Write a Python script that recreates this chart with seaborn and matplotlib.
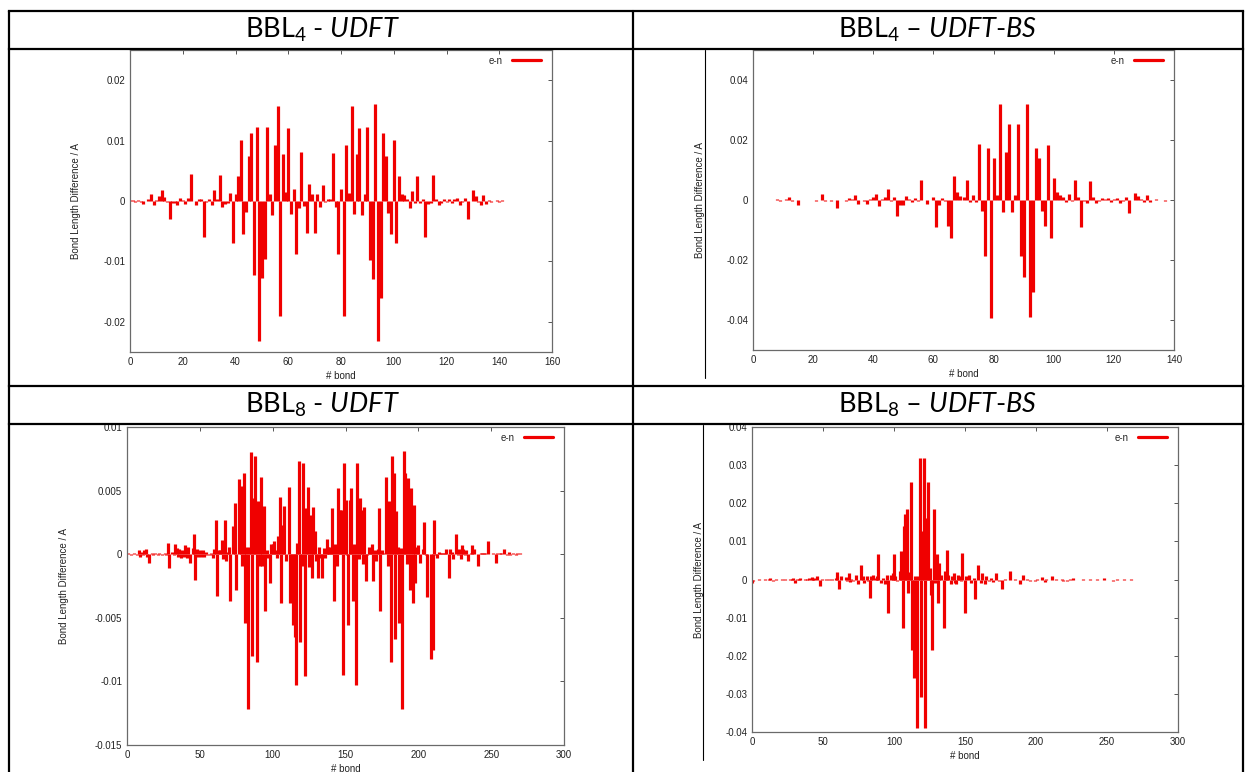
import matplotlib
matplotlib.use("Agg")
import matplotlib.pyplot as plt
from matplotlib.lines import Line2D
import seaborn as sns
import numpy as np

# bond length differences (e-n), one value per bond, rows of 10
bbl4_udft = [
    0.0002, 0.0001, -0.0002, 0.0001, -0.0001, -0.0005, 0.0, 0.0003, 0.0011, -0.0006,
    0.0001, 0.0008, 0.0019, 0.0006, -0.0002, -0.0030, -0.0003, -0.0003, -0.0007, 0.0005,
    0.0002, -0.0005, 0.0005, 0.0044, 0.0, -0.0007, 0.0003, 0.0003, -0.0060, -0.0002,
    0.0003, -0.0006, 0.0018, 0.0003, 0.0043, -0.0010, -0.0005, -0.0003, 0.0013, -0.0070,
    0.0011, 0.0042, 0.0101, -0.0055, -0.0019, 0.0075, 0.0112, -0.0122, 0.0123, -0.0231,
    -0.0128, -0.0096, 0.0123, 0.0011, -0.0024, 0.0092, 0.0157, -0.0190, 0.0077, 0.0015,
    0.0121, -0.0021, 0.0020, -0.0087, -0.0011, 0.0081, -0.0009, -0.0053, 0.0028, 0.0012,
    -0.0053, 0.0012, -0.0010, 0.0027, -0.0001, 0.0003, 0.0003, 0.0080, -0.0010, -0.0087,
    0.0020, -0.0190, 0.0093, 0.0014, 0.0158, -0.0022, 0.0077, 0.0121, -0.0023, 0.0011,
    0.0122, -0.0097, -0.0129, 0.0160, -0.0231, -0.0160, 0.0112, 0.0074, -0.0020, -0.0054,
    0.0101, -0.0069, 0.0041, 0.0012, 0.0010, 0.0004, -0.0011, 0.0017, -0.0004, 0.0042,
    -0.0003, 0.0003, -0.0059, -0.0005, -0.0003, 0.0043, 0.0004, -0.0007, -0.0003, 0.0003,
    -0.0001, 0.0003, -0.0004, 0.0004, 0.0005, -0.0007, -0.0002, 0.0005, -0.0030, 0.0,
    0.0018, 0.0009, -0.0001, -0.0007, 0.0010, -0.0005, 0.0002, -0.0001, 0.0, 0.0002,
    -0.0002, 0.0001,
]

bbl4_udft_bs = [
    0.0001, 0.0, 0.0001, 0.0, 0.0001, 0.0, -0.0001, 0.0, 0.0004, -0.0004,
    0.0, 0.0005, 0.0009, -0.0004, 0.0, -0.0015, 0.0, 0.0001, 0.0, 0.0001,
    0.0, -0.0002, 0.0, 0.0020, -0.0002, 0.0, -0.0003, 0.0, -0.0027, 0.0,
    0.0, -0.0004, 0.0007, 0.0004, 0.0017, -0.0012, 0.0, -0.0002, -0.0012, 0.0002,
    0.0009, 0.0019, -0.0019, 0.0004, 0.0011, 0.0037, -0.0004, 0.0011, -0.0052, -0.0016,
    -0.0018, 0.0012, 0.0002, -0.0008, 0.0007, -0.0004, 0.0068, 0.0, -0.0012, 0.0,
    0.0011, -0.0090, -0.0016, 0.0007, -0.0002, -0.0088, -0.0127, 0.0079, 0.0026, 0.0012,
    0.0009, 0.0066, -0.0006, 0.0017, -0.0006, 0.0187, -0.0037, -0.0188, 0.0174, -0.0392,
    0.0140, 0.0017, 0.0320, -0.0041, 0.0161, 0.0254, -0.0041, 0.0017, 0.0254, -0.0185,
    -0.0258, 0.0320, -0.0390, -0.0306, 0.0174, 0.0140, -0.0038, -0.0088, 0.0184, -0.0127,
    0.0075, 0.0026, 0.0018, 0.0009, -0.0008, 0.0020, -0.0004, 0.0066, 0.0009, -0.0090,
    -0.0004, -0.0011, 0.0064, 0.0011, -0.0011, -0.0002, 0.0007, 0.0002, 0.0007, -0.0007,
    0.0002, 0.0007, -0.0011, -0.0004, 0.0009, -0.0043, 0.0, 0.0023, 0.0014, 0.0002,
    -0.0008, 0.0016, -0.0008, 0.0, 0.0002, 0.0, 0.0001, -0.0002, -0.0001, 0.0001,
]

bbl8_udft = [
    0.0, 0.0001, 0.0, -0.0001, 0.0, 0.0001, 0.0, -0.0001, 0.0003, -0.0002,
    0.0002, -0.0001, 0.0003, 0.0004, -0.0002, -0.0007, 0.0, 0.0001, -0.0001, 0.0001,
    0.0, -0.0001, 0.0001, 0.0, -0.0001, 0.0, 0.0001, -0.0001, 0.0009, -0.0011,
    0.0, 0.0002, -0.0001, 0.0008, 0.0005, -0.0002, 0.0004, -0.0003, 0.0003, -0.0002,
    0.0007, -0.0003, 0.0006, -0.0007, 0.0, 0.0005, 0.0016, -0.0020, 0.0004, -0.0002,
    0.0003, -0.0002, 0.0003, -0.0002, 0.0002, -0.0001, 0.0, -0.0001, 0.0001, -0.0003,
    0.0004, 0.0027, -0.0033, 0.0003, 0.0003, 0.0011, -0.0004, 0.0027, -0.0005, 0.0002,
    0.0006, -0.0037, 0.0, 0.0022, 0.0040, -0.0028, 0.0, 0.0059, 0.0054, -0.0009,
    0.0064, -0.0054, 0.0006, -0.0122, 0.0006, 0.0080, -0.0080, 0.0044, 0.0077, -0.0085,
    0.0042, -0.0009, 0.0061, -0.0009, 0.0038, -0.0045, 0.0003, -0.0003, -0.0023, 0.0008,
    0.0008, 0.0010, 0.0003, -0.0003, 0.0014, 0.0045, -0.0038, 0.0023, 0.0038, -0.0005,
    0.0, 0.0053, -0.0038, -0.0009, -0.0056, -0.0065, -0.0103, 0.0009, 0.0073, -0.0069,
    -0.0009, 0.0072, -0.0096, 0.0036, 0.0053, -0.0010, 0.0031, -0.0019, 0.0037, 0.0018,
    -0.0005, -0.0019, 0.0006, -0.0003, -0.0019, 0.0005, -0.0003, 0.0012, 0.0006, 0.0006,
    0.0002, 0.0036, -0.0037, 0.0008, -0.0009, 0.0052, 0.0035, 0.0035, -0.0095, 0.0072,
    0.0043, -0.0001, -0.0056, 0.0043, 0.0052, -0.0037, 0.0008, -0.0103, 0.0072, -0.0004,
    0.0044, 0.0035, -0.0008, 0.0037, -0.0021, -0.0001, 0.0006, 0.0005, 0.0008, -0.0021,
    0.0003, -0.0005, 0.0004, 0.0036, -0.0045, 0.0003, 0.0001, 0.0, 0.0061, -0.0009,
    0.0042, -0.0085, 0.0077, 0.0064, -0.0067, 0.0034, 0.0006, -0.0054, 0.0005, -0.0122,
    0.0081, 0.0064, -0.0008, 0.0060, -0.0028, 0.0052, -0.0038, 0.0039, -0.0023, 0.0006,
    0.0007, -0.0007, 0.0, 0.0004, 0.0025, -0.0001, -0.0034, 0.0, 0.0, -0.0082,
    -0.0075, 0.0027, -0.0001, -0.0003, 0.0002, 0.0001, 0.0001, 0.0001, 0.0001, 0.0004,
    0.0, -0.0019, 0.0004, 0.0002, -0.0004, 0.0, 0.0016, -0.0001, 0.0004, -0.0004,
    0.0007, 0.0004, -0.0001, 0.0003, -0.0005, 0.0, 0.0001, 0.0007, 0.0004, 0.0,
    0.0, -0.0009, 0.0, 0.0001, 0.0001, 0.0001, 0.0001, 0.0, 0.0010, 0.0,
    0.0, 0.0001, 0.0, -0.0007, 0.0001, 0.0, 0.0001, 0.0001, 0.0, 0.0004,
    0.0, -0.0001, 0.0002, -0.0001, 0.0, 0.0001, 0.0, -0.0001, 0.0001, 0.0,
    0.0001, 0.0,
]

bbl8_udft_bs = [
    -0.0010, -0.0003, 0.0, -0.0001, 0.0, 0.0001, 0.0, -0.0001, 0.0, 0.0001,
    0.0, 0.0, 0.0001, 0.0004, 0.0, -0.0004, 0.0, 0.0001, 0.0, -0.0001,
    0.0, 0.0001, 0.0, 0.0001, 0.0, -0.0001, 0.0, 0.0001, 0.0002, 0.0004,
    -0.0009, 0.0, 0.0002, 0.0001, 0.0004, -0.0001, 0.0, 0.0001, -0.0001, 0.0001,
    0.0003, -0.0001, 0.0006, 0.0001, 0.0004, -0.0002, 0.0009, 0.0, -0.0016, 0.0001,
    0.0, -0.0001, 0.0001, 0.0, 0.0001, -0.0001, 0.0001, 0.0, -0.0001, 0.0003,
    0.0019, -0.0025, 0.0, 0.0009, -0.0002, 0.0, 0.0007, -0.0003, 0.0018, -0.0007,
    0.0002, -0.0003, 0.0, 0.0011, 0.0, -0.0013, 0.0, 0.0037, 0.0009, -0.0009,
    0.0, 0.0009, -0.0004, -0.0048, 0.0009, 0.0011, 0.0, 0.0004, 0.0009, 0.0068,
    0.0, -0.0009, 0.0004, 0.0, -0.0013, 0.0013, -0.0088, 0.0, 0.0013, 0.0018,
    0.0066, 0.0009, -0.0004, 0.0, 0.0022, 0.0075, -0.0127, 0.0140, 0.0171, 0.0186,
    -0.0035, 0.0020, 0.0256, -0.0186, -0.0259, 0.0010, -0.0390, 0.0010, 0.0320, -0.0307,
    0.0127, 0.0320, -0.0390, 0.0162, 0.0256, 0.0030, -0.0040, -0.0186, 0.0186, -0.0009,
    0.0066, -0.0061, 0.0044, 0.0013, 0.0, -0.0127, 0.0022, 0.0077, 0.0013, 0.0,
    -0.0013, 0.0009, 0.0018, -0.0009, -0.0013, 0.0013, 0.0009, -0.0004, 0.0070, 0.0,
    -0.0088, 0.0009, 0.0, 0.0013, -0.0009, 0.0, 0.0004, -0.0051, 0.0, 0.0037,
    0.0, -0.0009, 0.0018, 0.0, -0.0013, 0.0009, 0.0, -0.0004, 0.0004, 0.0,
    -0.0007, 0.0, 0.0016, -0.0002, -0.0004, 0.0, -0.0025, 0.0, 0.0002, 0.0,
    -0.0001, 0.0, 0.0022, 0.0, 0.0, 0.0001, -0.0002, 0.0, 0.0, -0.0013,
    0.0, 0.0013, -0.0002, 0.0, 0.0002, 0.0, -0.0004, 0.0, 0.0, -0.0004,
    0.0, 0.0002, -0.0002, 0.0, 0.0007, 0.0, -0.0007, 0.0002, 0.0, -0.0002,
    0.0, 0.0009, 0.0, 0.0, 0.0001, 0.0, -0.0001, 0.0, 0.0001, -0.0004,
    0.0, 0.0, -0.0004, 0.0, 0.0001, 0.0, 0.0005, 0.0, -0.0001, 0.0,
    0.0, -0.0002, 0.0, 0.0001, 0.0, -0.0001, 0.0, 0.0, 0.0002, 0.0,
    -0.0001, 0.0, 0.0, 0.0001, 0.0, 0.0, -0.0001, 0.0, 0.0003, 0.0,
    0.0, 0.0, -0.0001, 0.0, -0.0004, 0.0, 0.0, 0.0001, 0.0, 0.0,
    -0.0001, 0.0, 0.0001, 0.0, 0.0, -0.0001, 0.0, 0.0001, 0.0, 0.0,
    -0.0001, 0.0,
]

titles = [
    r"BBL$_{\mathrm{4}}$ - $\mathit{UDFT}$",
    r"BBL$_{\mathrm{4}}$ – $\mathit{UDFT}$-$\mathit{BS}$",
    r"BBL$_{\mathrm{8}}$ - $\mathit{UDFT}$",
    r"BBL$_{\mathrm{8}}$ – $\mathit{UDFT}$-$\mathit{BS}$",
]

xticks_bbl4_udft = [0, 20, 40, 60, 80, 100, 120, 140, 160]
xticks_bbl4_bs = [0, 20, 40, 60, 80, 100, 120, 140]
xticks_bbl8 = [0, 50, 100, 150, 200, 250, 300]
yticks_bbl4_udft = [-0.02, -0.01, 0, 0.01, 0.02]
yticks_bbl4_bs = [-0.04, -0.02, 0, 0.02, 0.04]
yticks_bbl8_udft = [-0.015, -0.01, -0.005, 0, 0.005, 0.01]
yticks_bbl8_bs = [-0.04, -0.03, -0.02, -0.01, 0, 0.01, 0.02, 0.03, 0.04]

sns.set_style("white")
plt.rcParams["font.family"] = ["Liberation Sans", "DejaVu Sans"]
plt.rcParams["axes.unicode_minus"] = False
plt.rcParams["mathtext.fontset"] = "custom"
plt.rcParams["mathtext.rm"] = "Lato"
plt.rcParams["mathtext.it"] = "Lato:italic"

W, H = 1246, 772
fig = plt.figure(figsize=(W / 100, H / 100), dpi=100)
RED = "#f00000"
FS = 7


def draw_panel(box, values, xlim, xticks, ylim, yticks, ylab_off):
    x0, y0, x1, y1 = box
    w, h = x1 - x0, y1 - y0
    ax = fig.add_axes([x0 / W, 1 - y1 / H, w / W, h / H])
    bonds = np.arange(len(values))
    ax.vlines(bonds, 0, values, colors=RED, lw=2.3, capstyle="butt")
    ax.set_xlim(*xlim)
    ax.set_ylim(*ylim)
    ax.set_xticks(xticks)
    ax.set_xticklabels([f"{v:g}" for v in xticks])
    ax.set_yticks(yticks)
    ax.set_yticklabels([f"{v:g}" for v in yticks])
    ax.tick_params(direction="in", length=3, width=0.7, color="#555555",
                   top=True, right=True, labelsize=FS, labelcolor="#222222", pad=3.5)
    for s in ax.spines.values():
        s.set_color("#6a6a6a")
        s.set_linewidth(0.9)
    ax.set_xlabel("# bond", fontsize=FS, color="#222222")
    ax.set_ylabel("Bond Length Difference / A", fontsize=FS, color="#222222")
    ax.xaxis.set_label_coords(0.5, -19 / h)
    ax.yaxis.set_label_coords(-(ylab_off + 4) / w, 0.5)
    handle = Line2D([], [], color=RED, lw=2.3)
    ax.legend([handle], ["e-n"], loc="upper right", frameon=False, markerfirst=False,
              fontsize=FS, handlelength=3.0, handletextpad=1.0,
              bbox_to_anchor=(1 - 7 / w, 1 - 2 / h), borderaxespad=0)
    return ax


draw_panel((130, 50, 552, 352), bbl4_udft, (0, 160), xticks_bbl4_udft,
           (-0.025, 0.025), yticks_bbl4_udft, 45)
draw_panel((753, 50, 1174, 350), bbl4_udft_bs, (0, 140), xticks_bbl4_bs,
           (-0.05, 0.05), yticks_bbl4_bs, 44)
draw_panel((127, 427, 564, 745), bbl8_udft, (0, 300), xticks_bbl8,
           (-0.015, 0.01), yticks_bbl8_udft, 54)
draw_panel((752, 427, 1178, 732), bbl8_udft_bs, (0, 300), xticks_bbl8,
           (-0.04, 0.04), yticks_bbl8_bs, 44)

# table grid and header texts on top
ov = fig.add_axes([0, 0, 1, 1], zorder=10)
ov.set_xlim(0, W)
ov.set_ylim(H, 0)
ov.axis("off")
ov.patch.set_alpha(0)
for yy in (11, 49, 386, 424):
    ov.plot([9, 1243], [yy, yy], color="black", lw=1.6, solid_capstyle="projecting")
for xx in (9, 633, 1243):
    ov.plot([xx, xx], [11, H + 2], color="black", lw=1.6)
ov.plot([705, 705], [50, 378], color="black", lw=0.8)
ov.plot([703, 703], [425, 760], color="black", lw=0.8)

centers = [(322, 30), (938, 30), (322, 405), (938, 405)]
for (cx, cy), t in zip(centers, titles):
    ov.text(cx, cy, t, ha="center", va="center", fontsize=19.5, family="Lato", color="black")

fig.savefig("out.png", dpi=100)
